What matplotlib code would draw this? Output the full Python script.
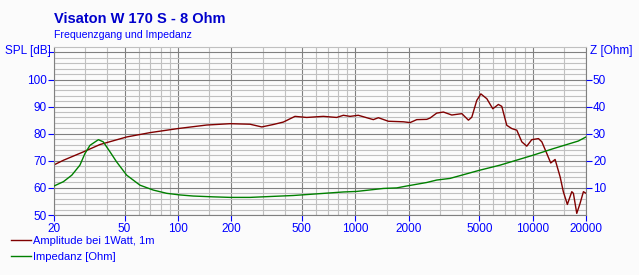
import numpy as np
import matplotlib
matplotlib.use('Agg')
import matplotlib.pyplot as plt
from matplotlib.ticker import FixedLocator, NullFormatter

plt.rcParams['font.family'] = ['Liberation Sans', 'DejaVu Sans']

# Frequenzgang (SPL, dB)
spl_f = [20, 22.6, 29.3, 36.3, 51.4, 69.6, 100, 145, 197, 255, 297, 345, 393,
         457, 532, 661, 785, 857, 934, 1040, 1160, 1264, 1350, 1536, 1866,
         2036, 2222, 2530, 2642, 2878, 3140, 3500, 3990, 4345, 4540, 4843,
         5106, 5520, 5963, 6411, 6700, 7150, 7630, 8146, 8690, 9270, 9890,
         10790, 11270, 12020, 12650, 13390, 14290, 14900, 15700, 16630,
         16980, 17740, 18520, 19340, 20000]
spl_db = [68.5, 70.2, 73.3, 76.0, 78.8, 80.4, 81.9, 83.2, 83.7, 83.5, 82.5,
          83.4, 84.3, 86.4, 86.0, 86.4, 86.0, 86.8, 86.4, 86.8, 85.9, 85.2,
          85.9, 84.6, 84.4, 84.1, 85.2, 85.3, 85.8, 87.6, 88.0, 86.9, 87.4,
          85.0, 86.1, 92.3, 94.7, 92.9, 89.2, 90.8, 90.1, 83.1, 81.9, 81.3,
          77.0, 75.4, 77.8, 78.2, 77.0, 72.7, 69.2, 70.5, 64.1, 58.6, 53.9,
          58.6, 58.0, 50.6, 54.3, 58.6, 58.0]

# Impedanz (Ohm)
imp_f = [20, 22.6, 25.2, 28, 29.9, 31.9, 35.6, 37.9, 41.4, 45.1, 51.4, 61.1,
         72.6, 86.4, 102.8, 122, 158, 197, 255, 448, 606, 857, 1019, 1440,
         1714, 1950, 2530, 2878, 3420, 5010, 6550, 10100, 13100, 18100, 20000]
imp_z = [10.7, 12.3, 14.7, 18.4, 22.7, 25.7, 27.8, 27.0, 23.3, 19.6, 14.7,
         11.0, 9.2, 8.0, 7.4, 7.0, 6.7, 6.5, 6.5, 7.2, 7.8, 8.5, 8.7, 9.8,
         10.0, 10.7, 12.0, 12.9, 13.5, 16.5, 18.4, 22.1, 24.5, 27.3, 28.8]

x_major = [20, 50, 100, 200, 500, 1000, 2000, 5000, 10000, 20000]
x_minor = [30, 40, 60, 70, 80, 90, 150, 300, 400, 600, 700, 800, 900, 1500,
           3000, 4000, 6000, 7000, 8000, 9000, 15000]
spl_ticks = [50, 60, 70, 80, 90, 100, 110]
z_ticks = [10, 20, 30, 40, 50]

BLUE = '#0000ff'
BG = '#fbfbfb'
DARK = '#808080'
LIGHT = '#c0c0c0'

W, H = 639, 275
fig = plt.figure(figsize=(W / 100, H / 100), dpi=100)
fig.patch.set_facecolor(BG)

ax = fig.add_axes([54 / W, 1 - 215 / H, 532 / W, 168 / H])
ax.set_facecolor(BG)
ax.set_xscale('log')
ax.set_xlim(20, 20000)
ax.set_ylim(50, 112)

ax.xaxis.set_major_locator(FixedLocator(x_major))
ax.xaxis.set_minor_locator(FixedLocator(x_minor))
ax.set_xticklabels([str(v) for v in x_major])
ax.xaxis.set_minor_formatter(NullFormatter())
ax.yaxis.set_major_locator(FixedLocator(spl_ticks))
ax.yaxis.set_minor_locator(FixedLocator(np.arange(52, 112, 2)))
ax.set_yticklabels([str(v) for v in spl_ticks[:-1]] + [''])
ax.yaxis.get_major_ticks()[-1].tick1line.set_visible(False)

ax.grid(which='major', color=DARK, lw=0.8)
ax.grid(which='minor', color=LIGHT, lw=0.8)
ax.set_axisbelow(True)
ax.tick_params(which='major', direction='out', length=4, width=0.8,
               color=BLUE, labelcolor=BLUE, labelsize=8.5, pad=1)
ax.tick_params(which='minor', length=0)
ax.tick_params(axis='x', pad=2)
for s in ['left', 'bottom', 'right']:
    ax.spines[s].set_color(DARK)
    ax.spines[s].set_linewidth(0.8)
ax.spines['top'].set_color(LIGHT)
ax.spines['top'].set_linewidth(0.8)

l1, = ax.plot(spl_f, spl_db, color='#800000', lw=1.0,
              label='Amplitude bei 1Watt, 1m')

ax2 = ax.twinx()
ax2.set_ylim(0, 62)
ax2.yaxis.set_major_locator(FixedLocator(z_ticks))
ax2.yaxis.set_minor_locator(FixedLocator([]))
ax2.tick_params(direction='out', length=4, width=0.8, color=BLUE,
                labelcolor=BLUE, labelsize=8.5, pad=1)
for s in ax2.spines.values():
    s.set_visible(False)
l2, = ax2.plot(imp_f, imp_z, color='#008000', lw=1.0, label='Impedanz [Ohm]')

fig.text(54 / W, 1 - 19 / H, 'Visaton W 170 S - 8 Ohm', color='#0000cc',
         fontsize=10.5, fontweight='bold', va='center', ha='left')
fig.text(54 / W, 1 - 35 / H, 'Frequenzgang und Impedanz', color=BLUE,
         fontsize=7.6, va='center', ha='left')
fig.text(51 / W, 1 - 51 / H, 'SPL [dB]', color=BLUE, fontsize=8.5,
         va='center', ha='right')
fig.text(590 / W, 1 - 51 / H, 'Z [Ohm]', color=BLUE, fontsize=8.5,
         va='center', ha='left')

leg = fig.legend([l1, l2], [l1.get_label(), l2.get_label()],
                 loc='upper left', bbox_to_anchor=(11 / W, 1 - 236 / H),
                 frameon=False, fontsize=8, borderpad=0, borderaxespad=0,
                 handlelength=1.8, handletextpad=0.15, labelspacing=0.5)
for t in leg.get_texts():
    t.set_color(BLUE)

fig.savefig('out.png', dpi=100, facecolor=BG)
